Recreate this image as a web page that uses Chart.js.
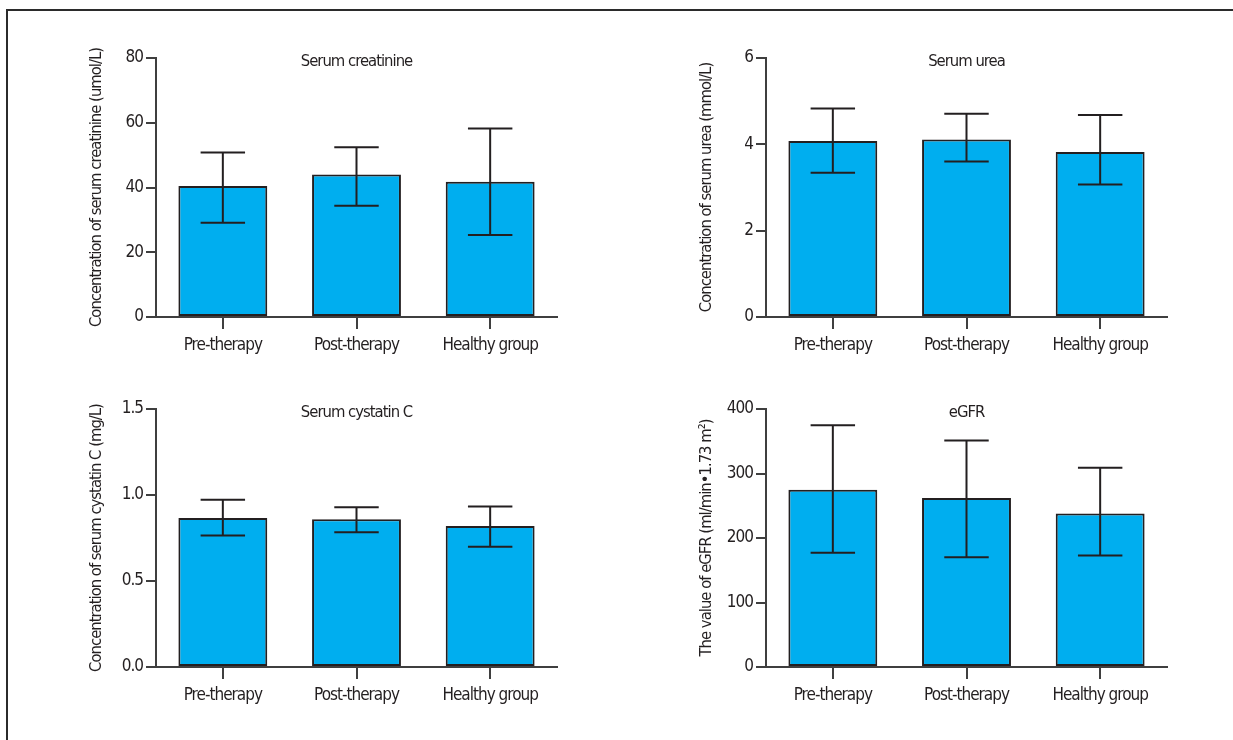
<!DOCTYPE html>
<html>
<head>
<meta charset="utf-8">
<script src="https://cdn.jsdelivr.net/npm/chart.js@4/dist/chart.umd.min.js"></script>
<style>
  html, body { margin: 0; padding: 0; background: #fff; }
  #page { position: relative; width: 1233px; height: 740px; overflow: hidden; background: #fff; }
  #frame { position: absolute; left: 6px; top: 9px; width: 1300px; height: 800px;
           border-top: 2px solid #2b2b2b; border-left: 2px solid #2b2b2b; }
  canvas { position: absolute; left: 0; top: 0; }
</style>
</head>
<body>
<div id="page">
  <div id="frame"></div>
  <canvas id="c1" width="1233" height="740"></canvas>
  <canvas id="c2" width="1233" height="740"></canvas>
  <canvas id="c3" width="1233" height="740"></canvas>
  <canvas id="c4" width="1233" height="740"></canvas>
</div>
<script>
// ---------- data ----------
const categories = ['Pre-therapy', 'Post-therapy', 'Healthy group'];

const creatinineMean = [40.5, 44.0, 41.8];
const creatinineLow  = [29.1, 34.4, 25.3];
const creatinineHigh = [50.8, 52.4, 58.2];
const creatinineTicks = [0, 20, 40, 60, 80];
const creatinineTickLabels = ['0', '20', '40', '60', '80'];

const ureaMean = [4.08, 4.11, 3.82];
const ureaLow  = [3.34, 3.60, 3.07];
const ureaHigh = [4.83, 4.71, 4.68];
const ureaTicks = [0, 2, 4, 6];
const ureaTickLabels = ['0', '2', '4', '6'];

const cystatinMean = [0.867, 0.859, 0.820];
const cystatinLow  = [0.765, 0.784, 0.699];
const cystatinHigh = [0.972, 0.929, 0.933];
const cystatinTicks = [0, 0.5, 1.0, 1.5];
const cystatinTickLabels = ['0.0', '0.5', '1.0', '1.5'];

const egfrMean = [275, 262, 238];
const egfrLow  = [177, 170, 173];
const egfrHigh = [375, 351, 309];
const egfrTicks = [0, 100, 200, 300, 400];
const egfrTickLabels = ['0', '100', '200', '300', '400'];

// ---------- styling ----------
const FONT = '"DejaVu Sans Condensed", "Liberation Sans Narrow", "Liberation Sans", sans-serif';
const BAR_FILL = '#00aeef';
const DARK = '#231f20';
const AXIS = '#3f3f3f';
const YTITLE_W = 68.8;
const XAXIS_H = 43;

const condensed = {
  id: 'condensed',
  beforeDraw(chart) { chart.ctx.letterSpacing = '-1px'; }
};

const errorBars = {
  id: 'errorBars',
  afterDatasetsDraw(chart, args, opts) {
    const ctx = chart.ctx;
    const meta = chart.getDatasetMeta(0);
    const ys = chart.scales.y;
    ctx.save();
    ctx.strokeStyle = DARK;
    ctx.lineWidth = 2;
    meta.data.forEach((bar, i) => {
      const x = bar.x;
      const yH = ys.getPixelForValue(opts.high[i]);
      const yL = ys.getPixelForValue(opts.low[i]);
      const cap = bar.width / 4;
      ctx.beginPath();
      ctx.moveTo(x, yL); ctx.lineTo(x, yH);
      ctx.moveTo(x - cap, yH); ctx.lineTo(x + cap, yH);
      ctx.moveTo(x - cap, yL); ctx.lineTo(x + cap, yL);
      ctx.stroke();
    });
    ctx.restore();
  }
};

const panelTitle = {
  id: 'panelTitle',
  afterDraw(chart, args, opts) {
    const ctx = chart.ctx;
    const a = chart.chartArea;
    ctx.save();
    ctx.font = '16.5px ' + FONT;
    ctx.fillStyle = DARK;
    ctx.textAlign = 'center';
    ctx.textBaseline = 'alphabetic';
    ctx.fillText(opts.text, (a.left + a.right) / 2, a.top + 7.5);
    ctx.restore();
  }
};

function makePanel(id, box, title, yTitle, mean, low, high, ticks, tickLabels) {
  new Chart(document.getElementById(id), {
    type: 'bar',
    data: {
      labels: categories,
      datasets: [{
        data: mean,
        backgroundColor: BAR_FILL,
        borderColor: DARK,
        borderWidth: 2,
        borderSkipped: false,
        barPercentage: 0.665,
        categoryPercentage: 1.0
      }]
    },
    options: {
      responsive: false,
      animation: false,
      events: [],
      layout: {
        padding: {
          left: box.left - YTITLE_W,
          top: box.top,
          right: 1233 - box.right,
          bottom: 740 - box.bottom - XAXIS_H
        }
      },
      plugins: {
        legend: { display: false },
        tooltip: { enabled: false },
        title: { display: false },
        errorBars: { low: low, high: high },
        panelTitle: { text: title }
      },
      scales: {
        x: {
          offset: true,
          grid: { display: true, drawOnChartArea: false, offset: false, tickLength: 12, color: AXIS, lineWidth: 2 },
          border: { display: true, color: AXIS, width: 2 },
          ticks: { font: { family: FONT, size: 17 }, color: DARK, padding: 6, maxRotation: 0 },
          afterFit(s) { s.height = XAXIS_H; }
        },
        y: {
          min: ticks[0],
          max: ticks[ticks.length - 1],
          afterBuildTicks(s) { s.ticks = ticks.map(v => ({ value: v })); },
          grid: { display: true, drawOnChartArea: false, tickLength: 10, color: AXIS, lineWidth: 2 },
          border: { display: true, color: AXIS, width: 2 },
          ticks: {
            font: { family: FONT, size: 17 }, color: DARK, padding: 3,
            callback(v) { const i = ticks.indexOf(v); return i >= 0 ? tickLabels[i] : ''; }
          },
          title: { display: true, text: yTitle, font: { family: FONT, size: 16.5 }, color: DARK, padding: 0 },
          afterFit(s) { s.width = YTITLE_W; }
        }
      }
    },
    plugins: [condensed, errorBars, panelTitle]
  });
}

makePanel('c1', { left: 156, right: 557, top: 58, bottom: 317 }, 'Serum creatinine',
  'Concentration of serum creatinine (umol/L)', creatinineMean, creatinineLow, creatinineHigh,
  creatinineTicks, creatinineTickLabels);
makePanel('c2', { left: 766, right: 1167, top: 58, bottom: 317 }, 'Serum urea',
  'Concentration of serum urea (mmol/L)', ureaMean, ureaLow, ureaHigh,
  ureaTicks, ureaTickLabels);
makePanel('c3', { left: 156, right: 557, top: 409, bottom: 667 }, 'Serum cystatin C',
  'Concentration of serum cystatin C (mg/L)', cystatinMean, cystatinLow, cystatinHigh,
  cystatinTicks, cystatinTickLabels);
makePanel('c4', { left: 766, right: 1167, top: 409, bottom: 667 }, 'eGFR',
  'The value of eGFR (ml/min\u20221.73 m\u00b2)', egfrMean, egfrLow, egfrHigh,
  egfrTicks, egfrTickLabels);
</script>
</body>
</html>
